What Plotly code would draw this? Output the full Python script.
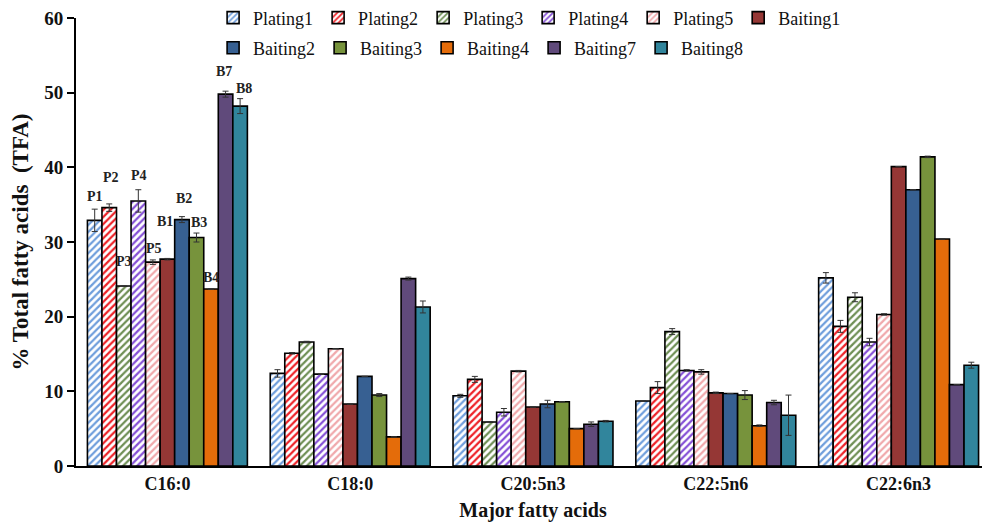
import plotly.graph_objects as go

categories = ["C16:0", "C18:0", "C20:5n3", "C22:5n6", "C22:6n3"]
series_names = ["Plating1", "Plating2", "Plating3", "Plating4", "Plating5",
                "Baiting1", "Baiting2", "Baiting3", "Baiting4", "Baiting7", "Baiting8"]

plating1 = [32.9, 12.4, 9.4, 8.7, 25.2]
plating2 = [34.6, 15.1, 11.6, 10.5, 18.7]
plating3 = [24.1, 16.6, 5.9, 18.0, 22.6]
plating4 = [35.5, 12.3, 7.2, 12.8, 16.6]
plating5 = [27.3, 15.7, 12.7, 12.6, 20.3]
baiting1 = [27.7, 8.3, 7.9, 9.8, 40.1]
baiting2 = [33.0, 12.0, 8.3, 9.7, 37.0]
baiting3 = [30.6, 9.5, 8.6, 9.5, 41.4]
baiting4 = [23.7, 3.9, 5.0, 5.4, 30.4]
baiting7 = [49.8, 25.1, 5.6, 8.5, 10.9]
baiting8 = [48.2, 21.3, 6.0, 6.8, 13.5]

err_plating1 = [1.5, 0.5, 0.2, 0.0, 0.7]
err_plating2 = [0.5, 0.1, 0.4, 0.8, 0.8]
err_plating3 = [0.0, 0.1, 0.0, 0.4, 0.6]
err_plating4 = [1.5, 0.0, 0.5, 0.1, 0.5]
err_plating5 = [0.3, 0.0, 0.1, 0.3, 0.1]
err_baiting1 = [0.1, 0.0, 0.0, 0.1, 0.0]
err_baiting2 = [0.4, 0.0, 0.5, 0.0, 0.0]
err_baiting3 = [0.6, 0.2, 0.0, 0.6, 0.1]
err_baiting4 = [0.0, 0.0, 0.0, 0.1, 0.0]
err_baiting7 = [0.4, 0.2, 0.3, 0.3, 0.0]
err_baiting8 = [1.0, 0.8, 0.1, 2.7, 0.4]

bar_labels = ["P1", "P2", "P3", "P4", "P5", "B1", "B2", "B3", "B4", "B7", "B8"]

values = [plating1, plating2, plating3, plating4, plating5,
          baiting1, baiting2, baiting3, baiting4, baiting7, baiting8]
errors = [err_plating1, err_plating2, err_plating3, err_plating4, err_plating5,
          err_baiting1, err_baiting2, err_baiting3, err_baiting4, err_baiting7, err_baiting8]

# styles
colors = ["#6f9edc", "#ee2228", "#6f8f55", "#8550d6", "#f0a8ab",
          "#953735", "#376092", "#77933c", "#e46c0a", "#604a7b", "#31859c"]
hatched = [True] * 5 + [False] * 6
legend_row = ["legend"] * 6 + ["legend2"] * 5
label_xshift = [0, 2, 0, 1, 1, -2, 2, 3, 0, -2, 4]
label_yshift = [13, 26, 25, 14, 11, 37, 18, 11, 12, 20, 10]

SERIF = "Liberation Serif"
bargap = 0.125

fig = go.Figure()
for i, name in enumerate(series_names):
    if hatched[i]:
        marker = dict(color="white", line=dict(color="black", width=1.6),
                      pattern=dict(shape="/", fgcolor=colors[i], bgcolor="white",
                                   size=5, solidity=0.45, fillmode="replace",
                                   fgopacity=1))
    else:
        marker = dict(color=colors[i], line=dict(color="black", width=1.6))
    fig.add_trace(go.Bar(
        name=name, x=categories, y=values[i], marker=marker,
        legend=legend_row[i],
        error_y=dict(type="data", array=errors[i], color="#333333",
                     thickness=1, width=3),
    ))

n = len(series_names)
bw = (1 - bargap) / n
for i, lab in enumerate(bar_labels):
    xpos = 0 - (1 - bargap) / 2 + (i + 0.5) * bw
    fig.add_annotation(
        x=xpos, y=values[i][0] + errors[i][0], text="<b>%s</b>" % lab,
        showarrow=False, xanchor="center", yanchor="middle",
        xshift=label_xshift[i], yshift=label_yshift[i],
        font=dict(family=SERIF, size=14, color="#222222"),
    )

legend_common = dict(orientation="h", xanchor="left", yanchor="middle",
                     font=dict(family=SERIF, size=18, color="#111111"),
                     bgcolor="rgba(0,0,0,0)", itemwidth=30, traceorder="normal",
                     yref="container")

fig.update_layout(
    width=982, height=520,
    margin=dict(l=68, r=0, t=10, b=62, autoexpand=False),
    paper_bgcolor="white", plot_bgcolor="white",
    barmode="group", bargap=bargap, bargroupgap=0,
    font=dict(family=SERIF, color="#111111"),
    showlegend=True,
    legend=dict(x=0.15, y=0.981, **legend_common),
    legend2=dict(x=0.15, y=0.923, **legend_common),
    xaxis=dict(
        type="category", range=[-0.5, 4.5],
        showline=True, linecolor="black", linewidth=2,
        ticks="", showgrid=False,
        tickfont=dict(family=SERIF, size=18, weight="bold", color="#111111"),
        title=dict(text="Major fatty acids", standoff=10,
                   font=dict(family=SERIF, size=20, weight="bold", color="#111111")),
    ),
    yaxis=dict(
        range=[0, 60], dtick=10, tick0=0,
        showline=True, linecolor="black", linewidth=2,
        ticks="outside", ticklen=7, tickwidth=2, tickcolor="black",
        showgrid=False, zeroline=False, ticklabeloverflow="allow",
        tickfont=dict(family=SERIF, size=19, weight="bold", color="#111111"),
        title=dict(text="% Total fatty acids  (TFA)",
                   font=dict(family=SERIF, size=23, weight="bold", color="#111111")),
    ),
)

fig.write_html("out.html")
